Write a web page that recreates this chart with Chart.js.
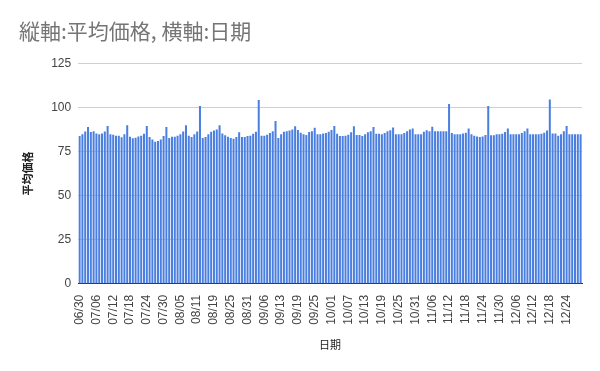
<!DOCTYPE html>
<html>
<head>
<meta charset="utf-8">
<script src="https://cdn.jsdelivr.net/npm/chart.js@4"></script>
<style>
  html, body { margin: 0; padding: 0; background: #fff; }
  #chart { display: block; }
</style>
</head>
<body>
<canvas id="chart" width="600" height="371"></canvas>
<script>
const fechas = [
  '06/30','07/01','07/02','07/03','07/04','07/05','07/06','07/07','07/08','07/09',
  '07/10','07/11','07/12','07/13','07/14','07/15','07/16','07/17','07/18','07/19',
  '07/20','07/21','07/22','07/23','07/24','07/25','07/26','07/27','07/28','07/29',
  '07/30','07/31','08/01','08/02','08/03','08/04','08/05','08/06','08/07','08/08',
  '08/09','08/10','08/11','08/12','08/13','08/14','08/17','08/18','08/19','08/20',
  '08/21','08/22','08/23','08/24','08/25','08/26','08/27','08/28','08/29','08/30',
  '08/31','09/01','09/02','09/03','09/04','09/05','09/06','09/07','09/08','09/10',
  '09/11','09/12','09/13','09/14','09/15','09/16','09/17','09/18','09/19','09/20',
  '09/21','09/22','09/23','09/24','09/25','09/26','09/27','09/28','09/29','09/30',
  '10/01','10/02','10/03','10/04','10/05','10/06','10/07','10/08','10/09','10/10',
  '10/11','10/12','10/13','10/14','10/15','10/16','10/17','10/18','10/19','10/20',
  '10/21','10/22','10/23','10/24','10/25','10/26','10/27','10/28','10/29','10/30',
  '10/31','11/01','11/02','11/03','11/04','11/05','11/06','11/07','11/08','11/09',
  '11/10','11/11','11/12','11/13','11/14','11/15','11/16','11/17','11/18','11/19',
  '11/20','11/21','11/22','11/23','11/24','11/25','11/26','11/27','11/28','11/29',
  '11/30','12/01','12/02','12/03','12/04','12/05','12/06','12/07','12/08','12/09',
  '12/10','12/11','12/12','12/13','12/14','12/15','12/16','12/17','12/18','12/19',
  '12/20','12/21','12/22','12/23','12/24','12/25','12/26','12/27','12/28','12/29'
];

// 平均価格
const precios = [
  83.7, 84.7, 86.3, 88.8, 86.0, 86.5, 85.2, 84.7, 85.2, 86.3,
  89.4, 84.8, 84.5, 83.9, 83.9, 83.0, 84.7, 89.9, 83.3, 82.5,
  82.8, 83.5, 83.9, 85.0, 89.4, 83.2, 81.8, 80.5, 80.9, 81.8,
  83.7, 88.8, 82.6, 83.3, 83.3, 83.9, 84.7, 86.3, 89.9, 83.9,
  83.2, 84.7, 86.3, 100.7, 82.6, 83.2, 84.7, 86.1, 86.9, 87.4,
  89.9, 85.2, 84.1, 83.3, 82.6, 82.2, 83.2, 85.8, 83.2, 83.2,
  83.7, 83.9, 85.0, 86.1, 104.1, 83.9, 83.9, 84.5, 85.4, 86.5,
  92.2, 82.6, 84.7, 86.1, 86.5, 86.9, 87.4, 89.3, 87.1, 85.6,
  84.7, 84.3, 86.0, 86.5, 88.4, 84.7, 84.7, 85.2, 85.4, 86.1,
  87.1, 89.4, 85.0, 83.7, 83.7, 83.9, 84.5, 85.8, 89.2, 84.3,
  84.3, 83.7, 84.7, 85.8, 86.5, 88.8, 85.0, 85.0, 84.7, 85.4,
  86.5, 87.0, 88.6, 84.7, 84.7, 84.7, 85.4, 86.5, 87.4, 88.0,
  84.7, 84.7, 84.7, 86.1, 87.0, 86.5, 89.0, 86.5, 86.5, 86.5,
  86.5, 86.5, 101.9, 85.4, 84.7, 84.7, 84.7, 85.2, 85.6, 88.0,
  84.7, 83.9, 83.5, 83.2, 83.5, 84.3, 100.7, 84.1, 84.1, 84.7,
  84.7, 85.0, 86.0, 88.0, 84.7, 84.7, 84.7, 84.7, 85.4, 86.5,
  88.0, 84.7, 84.7, 84.7, 84.7, 85.0, 85.6, 86.9, 104.4, 85.2,
  85.2, 83.9, 84.7, 86.5, 89.4, 84.7, 84.7, 84.7, 84.7, 84.7
];

const ticksY = [0, 25, 50, 75, 100, 125];

const fuente = "Roboto, 'Noto Sans CJK JP', sans-serif";
const fuenteTicks = "'Liberation Sans', Arial, sans-serif";

const ctx = document.getElementById('chart');

new Chart(ctx, {
  type: 'bar',
  data: {
    labels: fechas,
    datasets: [{
      label: '平均価格',
      data: precios,
      backgroundColor: '#4a7fe0',
      borderWidth: 0,
      categoryPercentage: 1.0,
      barPercentage: 0.72
    }]
  },
  options: {
    responsive: false,
    animation: false,
    layout: { padding: { left: 19, right: 18, top: 8, bottom: 14 } },
    plugins: {
      legend: { display: false },
      tooltip: { enabled: false },
      title: {
        display: true,
        text: '縦軸:平均価格, 横軸:日期',
        align: 'start',
        color: '#757575',
        font: { family: "'Noto Sans CJK JP', sans-serif", size: 21, weight: 'normal' },
        padding: { top: 10, bottom: 20 }
      }
    },
    scales: {
      x: {
        grid: { display: false },
        border: { color: '#333' },
        ticks: {
          autoSkip: false,
          maxRotation: 90,
          minRotation: 90,
          color: '#444',
          font: { family: fuenteTicks, size: 12 },
          callback: function (val, i) {
            return i % 6 === 0 ? fechas[i] : null;
          }
        },
        title: {
          display: true,
          text: '日期',
          color: '#222',
          font: { family: fuente, size: 11 },
          padding: { top: 12 }
        }
      },
      y: {
        min: 0,
        max: 125,
        afterBuildTicks: function (axis) {
          axis.ticks = ticksY.map(v => ({ value: v }));
        },
        grid: { color: '#d0d0d0', drawTicks: false },
        border: { display: false },
        ticks: {
          color: '#444',
          padding: 7,
          font: { family: fuenteTicks, size: 12 }
        },
        title: {
          display: true,
          text: '平均価格',
          color: '#222',
          font: { family: fuente, size: 11, weight: 'bold' },
          padding: { bottom: 8 }
        }
      }
    }
  }
});
</script>
</body>
</html>
